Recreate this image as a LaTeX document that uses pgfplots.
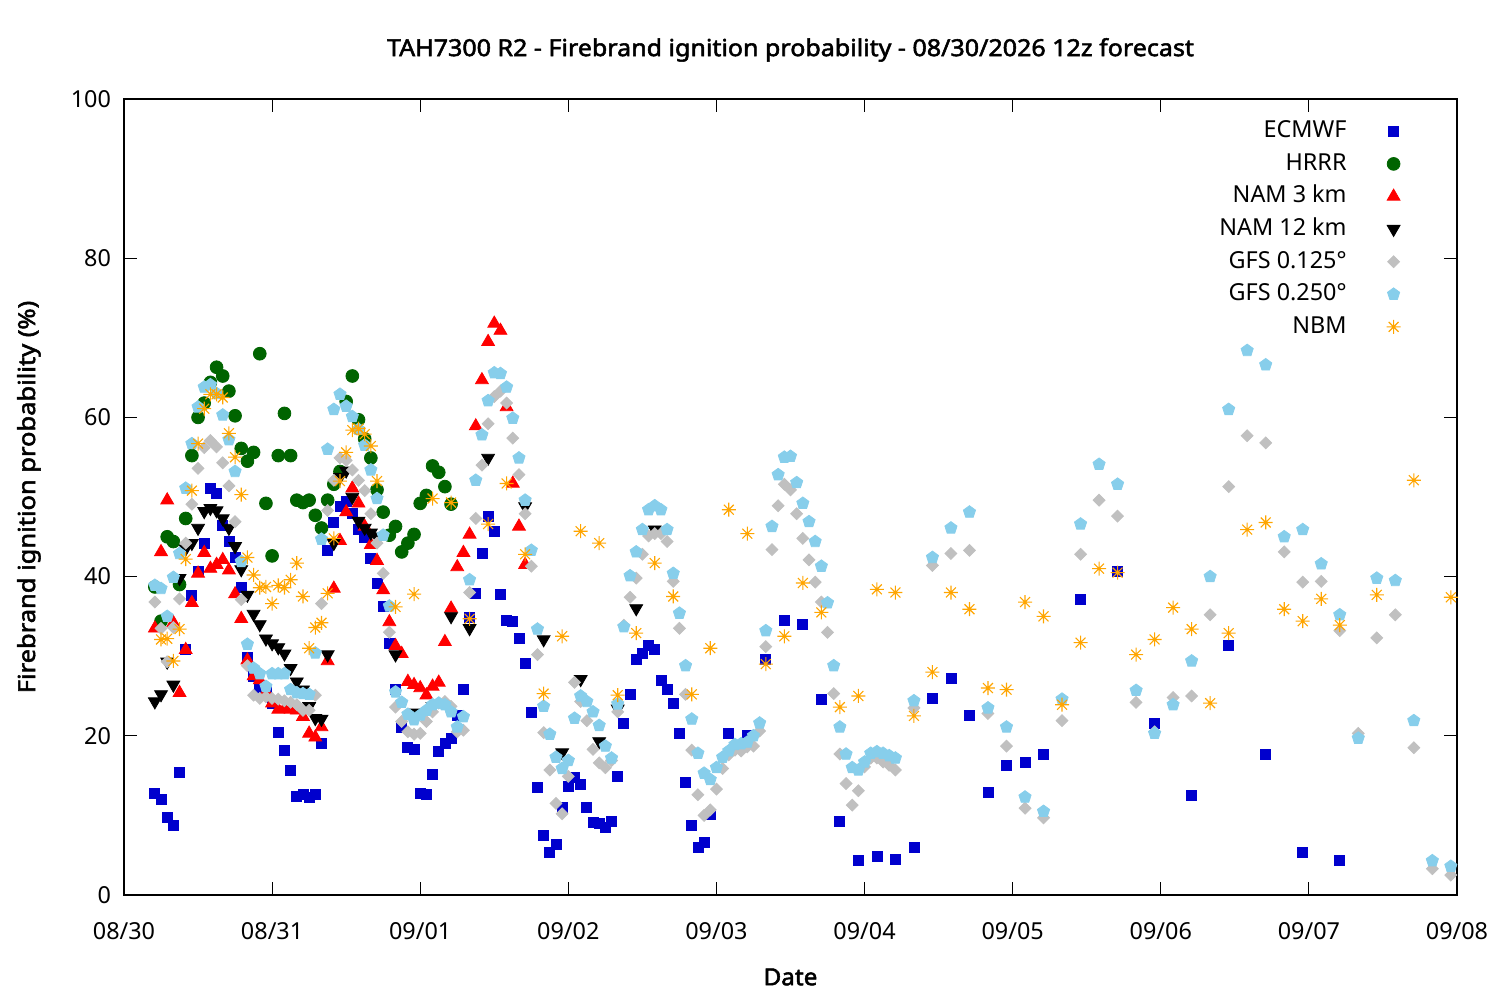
\documentclass[border=0pt]{standalone}
\usepackage{fontspec}
\setmainfont{Noto Sans}[AutoFakeBold=2.2]
\usepackage{pgfplots}
\pgfplotsset{compat=1.18}
\pgfdeclareplotmark{star8}{%
 \pgfpathmoveto{\pgfqpoint{-\pgfplotmarksize}{0pt}}\pgfpathlineto{\pgfqpoint{\pgfplotmarksize}{0pt}}%
 \pgfpathmoveto{\pgfqpoint{0pt}{-\pgfplotmarksize}}\pgfpathlineto{\pgfqpoint{0pt}{\pgfplotmarksize}}%
 \pgfpathmoveto{\pgfqpoint{-0.7071\pgfplotmarksize}{-0.7071\pgfplotmarksize}}\pgfpathlineto{\pgfqpoint{0.7071\pgfplotmarksize}{0.7071\pgfplotmarksize}}%
 \pgfpathmoveto{\pgfqpoint{-0.7071\pgfplotmarksize}{0.7071\pgfplotmarksize}}\pgfpathlineto{\pgfqpoint{0.7071\pgfplotmarksize}{-0.7071\pgfplotmarksize}}%
 \pgfusepathqstroke}
\definecolor{ecm}{RGB}{0,0,205}
\definecolor{hrrr}{RGB}{0,100,0}
\definecolor{gfsa}{RGB}{192,192,192}
\definecolor{gfsb}{RGB}{135,206,235}
\definecolor{nbm}{RGB}{255,165,0}
\newcommand{\fs}{\fontsize{11.7}{14}\selectfont}
\begin{document}
\begin{tikzpicture}[font=\fs]
\path[use as bounding box] (0,0) rectangle (750pt,500pt);
\begin{axis}[at={(62pt,52.5pt)}, anchor=south west, scale only axis,
 width=666.5pt, height=398pt,
 xmin=0, xmax=216, ymin=0, ymax=100,
 xtick={0,24,...,216},
 xticklabels={08/30,08/31,09/01,09/02,09/03,09/04,09/05,09/06,09/07,09/08},
 ytick={0,20,...,100},
 tick align=inside, xtick pos=both, ytick pos=both,
 major tick length=6.5pt,
 axis line style={line width=0.7pt},
 every tick/.style={black, line width=0.6pt},
 /pgf/number format/assume math mode=true,
 xticklabel style={yshift=-10pt},
 yticklabel style={xshift=-3pt},
 every axis title shift=0pt,
 title={TAH7300 R2 - Firebrand ignition probability - 08/30/2026 12z forecast},
 title style={font=\fs\bfseries\addfontfeature{FakeStretch=1.07}, at={(axis description cs:0.5,1.0616)}, anchor=center},
 xlabel={Date},
 xlabel style={font=\fs\bfseries\addfontfeature{FakeStretch=1.04}, at={(axis description cs:0.5,-0.103)}, anchor=center},
 ylabel={Firebrand ignition probability (\%)},
 ylabel style={font=\fs\bfseries\addfontfeature{FakeStretch=1.09}, at={(axis description cs:-0.0713,0.5)}, anchor=center},
 legend plot pos=right, legend cell align=right,
 legend style={draw=none, fill=none, at={(1,1)}, anchor=north east, xshift=-25pt, yshift=-5.8pt,
   nodes={inner xsep=2pt, inner ysep=2.4pt, text height=9pt, text depth=2.5pt},
   column sep=18pt, row sep=0pt},
]
\addplot[only marks, mark=square*, mark size=2.5pt, color=ecm] coordinates {
(5,12.8)(6,12.0)(7,9.8)(8,8.7)(9,15.4)(10,30.8)(11,37.6)(12,40.7)(13,44.2)(14,51.1)(15,50.4)(16,46.4)(17,44.4)(18,42.4)(19,38.6)(20,29.9)(21,27.4)(22,26.0)(23,25.8)(24,24.1)(25,20.4)(26,18.2)(27,15.6)(28,12.4)(29,12.6)(30,12.3)(31,12.7)(32,19.0)(33,43.3)(34,46.8)(35,48.8)(36,49.5)(37,48.0)(38,45.9)(39,44.9)(40,42.3)(41,39.2)(42,36.2)(43,31.6)(44,25.8)(45,21.1)(46,18.5)(47,18.3)(48,12.8)(49,12.7)(50,15.2)(51,18.1)(52,19.0)(53,19.7)(54,22.5)(55,25.8)(56,34.9)(57,37.9)(58,42.9)(59,47.5)(60,45.7)(61,37.7)(62,34.5)(63,34.4)(64,32.2)(65,29.1)(66,22.9)(67,13.5)(68,7.5)(69,5.3)(70,6.3)(71,11.0)(72,13.7)(73,14.8)(74,13.9)(75,11.0)(76,9.1)(77,9.0)(78,8.5)(79,9.3)(80,14.9)(81,21.6)(82,25.2)(83,29.6)(84,30.4)(85,31.4)(86,30.9)(87,26.9)(88,25.8)(89,24.1)(90,20.3)(91,14.1)(92,8.7)(93,6.0)(94,6.6)(95,10.1)(98,20.3)(101,20.0)(104,29.6)(107,34.5)(110,34.0)(113,24.6)(116,9.3)(119,4.4)(122,4.9)(125,4.5)(128,6.0)(131,24.7)(134,27.2)(137,22.5)(140,12.9)(143,16.3)(146,16.7)(149,17.7)(155,37.1)(161,40.6)(167,21.6)(173,12.5)(179,31.4)(185,17.7)(191,5.4)(197,4.3)
};
\addlegendentry{ECMWF}
\addplot[only marks, mark=*, mark size=3.2pt, color=hrrr] coordinates {
(5,38.7)(6,34.4)(7,45.0)(8,44.4)(9,39.0)(10,47.3)(11,55.2)(12,60.0)(13,61.8)(14,64.4)(15,66.3)(16,65.2)(17,63.3)(18,60.2)(19,56.1)(20,54.5)(21,55.6)(22,68.0)(23,49.2)(24,42.6)(25,55.2)(26,60.5)(27,55.2)(28,49.6)(29,49.3)(30,49.6)(31,47.7)(32,46.1)(33,49.6)(34,51.6)(35,53.2)(36,62.0)(37,65.2)(38,59.7)(39,57.3)(40,54.9)(41,50.9)(42,48.1)(43,45.2)(44,46.3)(45,43.1)(46,44.2)(47,45.3)(48,49.2)(49,50.2)(50,53.9)(51,53.1)(52,51.3)(53,49.1)
};
\addlegendentry{HRRR}
\addplot[only marks, mark=triangle*, mark size=3.7pt, color=red] coordinates {
(5,33.5)(6,43.1)(7,49.6)(8,34.2)(9,25.4)(10,30.8)(11,36.7)(12,40.4)(13,43.0)(14,41.0)(15,41.5)(16,42.1)(17,40.8)(18,37.8)(19,34.7)(20,29.5)(21,27.5)(22,27.0)(23,25.5)(24,24.1)(25,23.3)(26,23.4)(27,23.3)(28,23.2)(29,22.4)(30,20.3)(31,19.8)(32,21.1)(33,29.4)(34,38.5)(35,44.5)(36,48.1)(37,51.1)(38,49.2)(39,46.3)(40,44.0)(41,42.0)(42,38.3)(43,34.3)(44,31.3)(45,30.3)(46,26.8)(47,26.4)(48,26.0)(49,25.1)(50,26.2)(51,26.7)(52,31.8)(53,36.0)(54,41.2)(55,43.0)(56,45.3)(57,58.9)(58,64.7)(59,69.5)(60,71.8)(61,70.9)(62,61.3)(63,51.7)(64,46.3)(65,41.5)
};
\addlegendentry{NAM 3 km}
\addplot[only marks, mark=triangle*, mark size=3.7pt, mark options={rotate=180}, color=black] coordinates {
(5,24.3)(6,25.2)(7,29.3)(8,26.4)(9,39.8)(10,43.5)(11,44.2)(12,46.1)(13,48.2)(14,48.6)(15,48.3)(16,47.3)(17,46.1)(18,43.8)(19,40.9)(20,37.7)(21,35.3)(22,34.0)(23,32.2)(24,31.6)(25,31.1)(26,30.3)(27,28.5)(28,26.8)(29,25.8)(30,23.7)(31,22.2)(32,22.1)(33,30.2)(34,44.2)(35,52.5)(36,53.3)(37,50.0)(38,47.0)(39,46.1)(40,45.5)(41,45.0)(44,30.2)(47,22.9)(50,23.7)(53,35.0)(56,33.5)(59,54.9)(65,48.8)(68,32.1)(71,17.9)(74,27.1)(77,19.3)(80,23.4)(83,36.0)(86,45.9)
};
\addlegendentry{NAM 12 km}
\addplot[only marks, mark=square*, mark size=2.1pt, mark options={rotate=45}, color=gfsa] coordinates {
(5,36.8)(6,33.5)(7,29.3)(8,33.6)(9,37.2)(10,44.2)(11,49.1)(12,53.6)(13,56.2)(14,57.1)(15,56.3)(16,54.3)(17,51.4)(18,46.9)(19,37.1)(20,28.8)(21,25.1)(22,24.7)(23,24.9)(24,24.7)(25,24.6)(26,24.4)(27,24.2)(28,23.9)(29,23.2)(30,23.2)(31,25.1)(32,36.6)(33,48.3)(34,52.1)(35,54.9)(36,54.6)(37,53.4)(38,52.1)(39,50.8)(40,47.9)(41,44.2)(42,40.4)(43,33.0)(44,23.6)(45,21.8)(46,20.5)(47,20.2)(48,20.3)(49,21.8)(50,23.0)(51,24.1)(52,24.3)(53,23.7)(54,20.5)(55,20.7)(56,38.0)(57,47.3)(58,54.0)(59,59.2)(60,62.6)(61,63.3)(62,61.8)(63,57.4)(64,52.8)(65,47.9)(66,41.3)(67,30.2)(68,20.4)(69,15.7)(70,11.5)(71,10.2)(72,14.9)(73,26.7)(74,24.3)(75,21.9)(76,18.3)(77,16.6)(78,16.0)(79,16.9)(80,23.0)(81,33.9)(82,37.4)(83,39.8)(84,42.8)(85,45.1)(86,45.4)(87,45.4)(88,44.4)(89,39.4)(90,33.5)(91,25.2)(92,18.2)(93,12.6)(94,10.0)(95,10.7)(96,13.3)(97,15.9)(98,17.6)(99,18.2)(100,18.1)(101,18.6)(102,18.7)(103,20.6)(104,31.2)(105,43.4)(106,48.9)(107,51.6)(108,50.9)(109,47.9)(110,44.8)(111,42.1)(112,39.3)(113,36.8)(114,33.0)(115,25.3)(116,17.7)(117,14.0)(118,11.3)(119,13.1)(120,16.1)(121,17.2)(122,17.2)(123,16.7)(124,16.3)(125,15.7)(128,23.5)(131,41.4)(134,42.9)(137,43.3)(140,22.8)(143,18.7)(146,10.9)(149,9.7)(152,21.9)(155,42.8)(158,49.6)(161,47.6)(164,24.2)(167,20.5)(170,24.8)(173,25.0)(176,35.2)(179,51.3)(182,57.7)(185,56.8)(188,43.1)(191,39.3)(194,39.4)(197,33.2)(200,20.3)(203,32.3)(206,35.2)(209,18.5)(212,3.3)(215,2.5)
};
\addlegendentry{GFS 0.125°}
\addplot[only marks, mark=pentagon*, mark size=3.2pt, color=gfsb] coordinates {
(5,38.9)(6,38.5)(7,35.0)(8,39.9)(9,42.9)(10,51.1)(11,56.7)(12,61.3)(13,63.8)(14,64.1)(15,63.0)(16,60.3)(17,57.2)(18,53.2)(19,41.9)(20,31.5)(21,28.5)(22,27.8)(23,26.2)(24,27.8)(25,27.8)(26,27.8)(27,25.8)(28,25.4)(29,25.3)(30,25.2)(31,30.4)(32,44.7)(33,56.0)(34,61.0)(35,62.9)(36,61.4)(37,60.1)(38,58.5)(39,56.5)(40,53.4)(41,49.8)(42,45.2)(43,36.3)(44,25.5)(45,24.2)(46,22.7)(47,22.0)(48,22.6)(49,23.2)(50,23.9)(51,24.1)(52,23.9)(53,23.0)(54,21.1)(55,22.4)(56,39.6)(57,52.1)(58,57.8)(59,62.1)(60,65.6)(61,65.5)(62,63.8)(63,59.9)(64,54.9)(65,49.6)(66,43.3)(67,33.4)(68,23.7)(69,20.2)(70,17.3)(71,15.9)(72,16.9)(73,22.2)(74,25.0)(75,24.3)(76,23.0)(77,21.3)(78,18.7)(79,17.2)(80,24.0)(81,33.7)(82,40.1)(83,43.1)(84,45.9)(85,48.4)(86,48.9)(87,48.4)(88,45.9)(89,40.4)(90,35.4)(91,28.8)(92,22.1)(93,17.8)(94,15.3)(95,14.5)(96,16.0)(97,17.3)(98,18.1)(99,18.9)(100,19.0)(101,19.2)(102,20.0)(103,21.6)(104,33.2)(105,46.3)(106,52.8)(107,55.0)(108,55.1)(109,51.8)(110,49.2)(111,46.9)(112,44.4)(113,41.3)(114,36.7)(115,28.8)(116,21.1)(117,17.7)(118,16.0)(119,15.7)(120,16.7)(121,17.8)(122,18.0)(123,17.8)(124,17.5)(125,17.2)(128,24.4)(131,42.4)(134,46.1)(137,48.1)(140,23.5)(143,21.1)(146,12.3)(149,10.5)(152,24.6)(155,46.6)(158,54.1)(161,51.6)(164,25.7)(167,20.3)(170,23.9)(173,29.4)(176,40.0)(179,61.0)(182,68.4)(185,66.6)(188,45.0)(191,45.9)(194,41.6)(197,35.2)(200,19.7)(203,39.8)(206,39.5)(209,21.9)(212,4.3)(215,3.6)
};
\addlegendentry{GFS 0.250°}
\addplot[only marks, mark=star8, mark size=3.5pt, mark options={line width=0.55pt}, color=nbm] coordinates {
(6,32.1)(7,32.2)(8,29.4)(9,33.4)(10,42.2)(11,50.8)(12,56.7)(13,61.1)(14,62.9)(15,62.9)(16,62.5)(17,58.0)(18,55.0)(19,50.3)(20,42.4)(21,40.2)(22,38.6)(23,38.7)(24,36.6)(25,38.9)(26,38.6)(27,39.6)(28,41.7)(29,37.5)(30,31.0)(31,33.6)(32,34.2)(33,37.9)(34,44.8)(35,52.0)(36,55.6)(37,58.4)(38,58.6)(39,57.9)(40,56.4)(41,52.0)(44,36.2)(47,37.8)(50,49.8)(53,49.3)(56,34.7)(59,46.6)(62,51.7)(65,42.8)(68,25.3)(71,32.5)(74,45.7)(77,44.2)(80,25.1)(83,32.9)(86,41.7)(89,37.5)(92,25.2)(95,31.0)(98,48.4)(101,45.4)(104,29.0)(107,32.5)(110,39.2)(113,35.5)(116,23.6)(119,25.0)(122,38.4)(125,38.0)(128,22.5)(131,28.0)(134,38.0)(137,35.9)(140,26.0)(143,25.8)(146,36.8)(149,35.0)(152,23.9)(155,31.7)(158,41.0)(161,40.5)(164,30.2)(167,32.1)(170,36.1)(173,33.4)(176,24.1)(179,32.9)(182,45.9)(185,46.8)(188,35.9)(191,34.4)(194,37.2)(197,33.9)(203,37.7)(209,52.1)(215,37.4)
};
\addlegendentry{NBM}
\end{axis}
\end{tikzpicture}
\end{document}
